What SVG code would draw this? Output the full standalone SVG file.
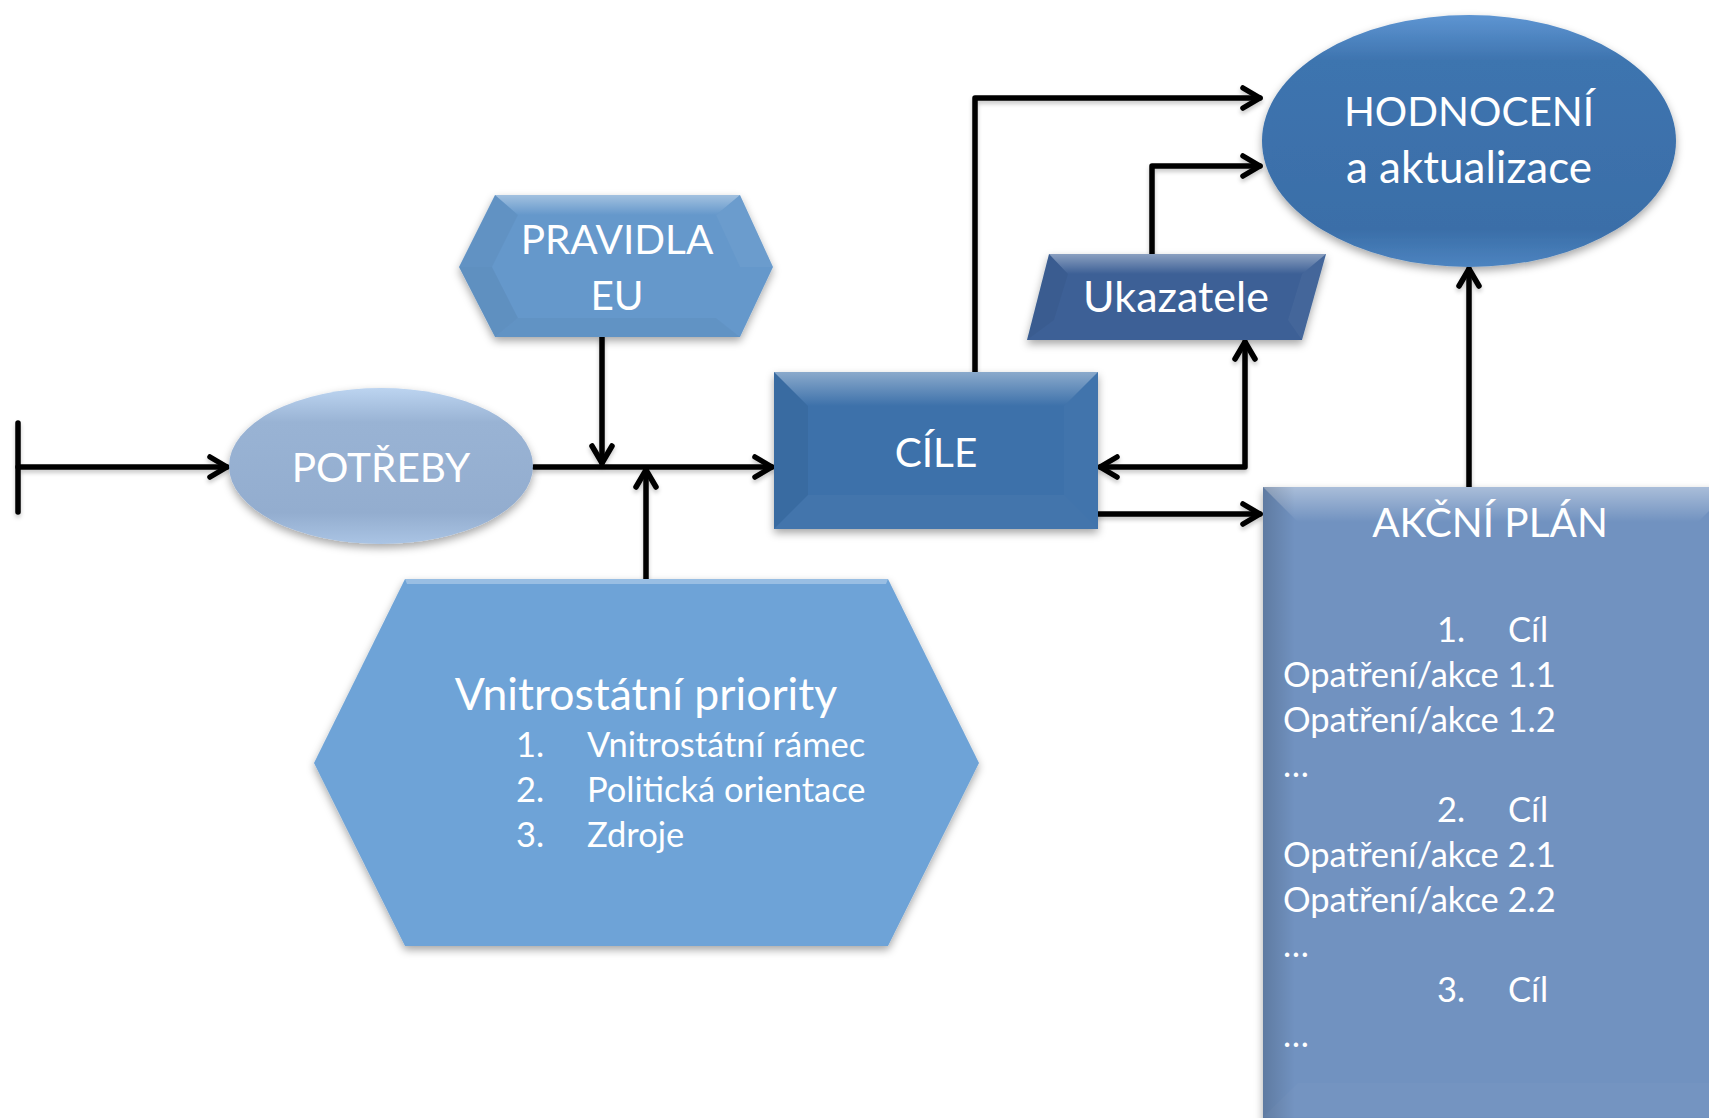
<svg xmlns="http://www.w3.org/2000/svg" width="1709" height="1118" viewBox="0 0 1709 1118">
<defs>
<style>
.t{font-family:Lato,"Open Sans","Liberation Sans",sans-serif;fill:#ffffff;font-size:40.5px;}
.tc{text-anchor:middle;}
.s{font-size:34.5px;}
.c{fill:none;stroke:#000;stroke-width:5.5;stroke-linecap:round;stroke-linejoin:round;}
</style>
<filter id="sh" x="-10%" y="-10%" width="120%" height="130%">
<feDropShadow dx="0" dy="4" stdDeviation="4" flood-color="#000" flood-opacity="0.35"/>
</filter>
<filter id="lsh" x="-5%" y="-5%" width="110%" height="115%">
<feDropShadow dx="0" dy="3" stdDeviation="2" flood-color="#000" flood-opacity="0.22"/>
</filter>
<marker id="ar" viewBox="-24 -15 30 30" markerWidth="30" markerHeight="30" refX="0" refY="0" orient="auto-start-reverse" markerUnits="userSpaceOnUse">
<path d="M-17,-10 L0,0 L-17,10" fill="none" stroke="#000" stroke-width="5.5" stroke-linecap="round" stroke-linejoin="round"/>
</marker>
<linearGradient id="gPot" x1="0" y1="0" x2="0" y2="1">
<stop offset="0" stop-color="#BCD4F0"/>
<stop offset="0.22" stop-color="#99B3D4"/>
<stop offset="0.8" stop-color="#93ADCF"/>
<stop offset="1" stop-color="#AAC4E4"/>
</linearGradient>
<linearGradient id="gHod" x1="0" y1="0" x2="0" y2="1">
<stop offset="0" stop-color="#5E95D2"/>
<stop offset="0.18" stop-color="#3E74AF"/>
<stop offset="0.85" stop-color="#3A6EA8"/>
<stop offset="1" stop-color="#4D84C0"/>
</linearGradient>
<linearGradient id="gTop" x1="0" y1="0" x2="0" y2="1">
<stop offset="0" stop-color="#ffffff" stop-opacity="0.4"/>
<stop offset="1" stop-color="#ffffff" stop-opacity="0"/>
</linearGradient>
<linearGradient id="gLeft" x1="0" y1="0" x2="1" y2="0">
<stop offset="0" stop-color="#000000" stop-opacity="0.16"/>
<stop offset="1" stop-color="#000000" stop-opacity="0"/>
</linearGradient>
</defs>

<g id="connectors" filter="url(#lsh)">
<line class="c" x1="18" y1="423" x2="18" y2="512"/>
<line class="c" x1="18" y1="467" x2="227" y2="467" marker-end="url(#ar)"/>
<line class="c" x1="534" y1="467" x2="772" y2="467" marker-end="url(#ar)"/>
<line class="c" x1="602" y1="337" x2="602" y2="463" marker-end="url(#ar)"/>
<line class="c" x1="646" y1="579" x2="646" y2="470" marker-end="url(#ar)"/>
<polyline class="c" points="975,372 975,98 1260,98" marker-end="url(#ar)"/>
<polyline class="c" points="1152,254 1152,166 1260,166" marker-end="url(#ar)"/>
<polyline class="c" points="1100,467 1245,467 1245,342" marker-start="url(#ar)" marker-end="url(#ar)"/>
<line class="c" x1="1098" y1="514" x2="1260" y2="514" marker-end="url(#ar)"/>
<line class="c" x1="1469" y1="487" x2="1469" y2="269" marker-end="url(#ar)"/>
</g>

<g id="potreby">
<ellipse cx="381" cy="466" rx="152" ry="78" fill="url(#gPot)" filter="url(#sh)"/>
<text class="t tc" x="381" y="482">POTŘEBY</text>
</g>

<g id="pravidla">
<polygon points="459,267 495,195 740,195 773,267 740,337 495,337" fill="#6598CB" filter="url(#sh)"/>
<polygon points="495,195 740,195 716,215 518,215" fill="url(#gTop)"/>
<polygon points="459,267 495,195 518,215 492,267" fill="#000" fill-opacity="0.035"/>
<polygon points="459,267 492,267 518,318 495,337" fill="#000" fill-opacity="0.05"/>
<polygon points="773,267 740,195 716,215 740,267" fill="#fff" fill-opacity="0.04"/>
<polygon points="495,337 740,337 716,318 518,318" fill="#000" fill-opacity="0.03"/>
<text class="t tc" x="617" y="254">PRAVIDLA</text>
<text class="t tc" x="617" y="310">EU</text>
</g>

<g id="cile">
<rect x="774" y="372" width="324" height="157" fill="#3D71AA" filter="url(#sh)"/>
<polygon points="774,372 1098,372 1064,406 808,406" fill="url(#gTop)"/>
<polygon points="774,372 808,406 808,495 774,529" fill="#000" fill-opacity="0.05"/>
<polygon points="1098,372 1064,406 1064,495 1098,529" fill="#fff" fill-opacity="0.025"/>
<polygon points="774,529 808,495 1064,495 1098,529" fill="#fff" fill-opacity="0.03"/>
<text class="t tc" x="936" y="467">CÍLE</text>
</g>

<g id="ukazatele">
<polygon points="1049,254 1326,254 1302,340 1027,340" fill="#3C6196" filter="url(#sh)"/>
<polygon points="1049,254 1326,254 1302,274 1068,274" fill="url(#gTop)"/>
<polygon points="1049,254 1068,274 1054,320 1027,340" fill="#000" fill-opacity="0.04"/>
<polygon points="1326,254 1302,274 1288,320 1302,340" fill="#fff" fill-opacity="0.04"/>
<text class="t tc" x="1176" y="312" style="font-size:43px">Ukazatele</text>
</g>

<g id="hodnoceni">
<ellipse cx="1469" cy="141" rx="207" ry="126" fill="url(#gHod)" filter="url(#sh)"/>
<text class="t tc" x="1469" y="126">HODNOCENÍ</text>
<text class="t tc" x="1469" y="183" style="font-size:44px">a aktualizace</text>
</g>

<g id="vnitrostatni">
<polygon points="314,763 405,579 888,579 979,763 888,946 405,946" fill="#6EA3D7" filter="url(#sh)"/>
<polygon points="405,579 888,579 886,584 407,584" fill="#fff" fill-opacity="0.3"/>
<text class="t tc" x="646" y="710" style="font-size:44.5px">Vnitrostátní priority</text>
<text class="t s" y="757"><tspan x="516">1.</tspan><tspan x="587">Vnitrostátní rámec</tspan></text>
<text class="t s" y="802"><tspan x="516">2.</tspan><tspan x="587">Politická orientace</tspan></text>
<text class="t s" y="847"><tspan x="516">3.</tspan><tspan x="587">Zdroje</tspan></text>
</g>

<g id="akcni-plan">
<rect x="1263" y="487" width="470" height="640" fill="#7192C0" filter="url(#sh)"/>
<polygon points="1263,487 1733,487 1698,522 1298,522" fill="url(#gTop)"/>
<rect x="1263" y="487" width="32" height="640" fill="url(#gLeft)"/>
<polygon points="1263,1117 1298,1083 1709,1083 1709,1117" fill="#fff" fill-opacity="0.025"/>
<text class="t tc" x="1490" y="537">AKČNÍ PLÁN</text>
<text class="t s" y="642"><tspan x="1437">1.</tspan><tspan x="1508">Cíl</tspan></text>
<text class="t s" x="1283" y="687">Opatření/akce 1.1</text>
<text class="t s" x="1283" y="732">Opatření/akce 1.2</text>
<text class="t s" x="1283" y="777">…</text>
<text class="t s" y="822"><tspan x="1437">2.</tspan><tspan x="1508">Cíl</tspan></text>
<text class="t s" x="1283" y="867">Opatření/akce 2.1</text>
<text class="t s" x="1283" y="912">Opatření/akce 2.2</text>
<text class="t s" x="1283" y="957">…</text>
<text class="t s" y="1002"><tspan x="1437">3.</tspan><tspan x="1508">Cíl</tspan></text>
<text class="t s" x="1283" y="1047">…</text>
</g>
</svg>
